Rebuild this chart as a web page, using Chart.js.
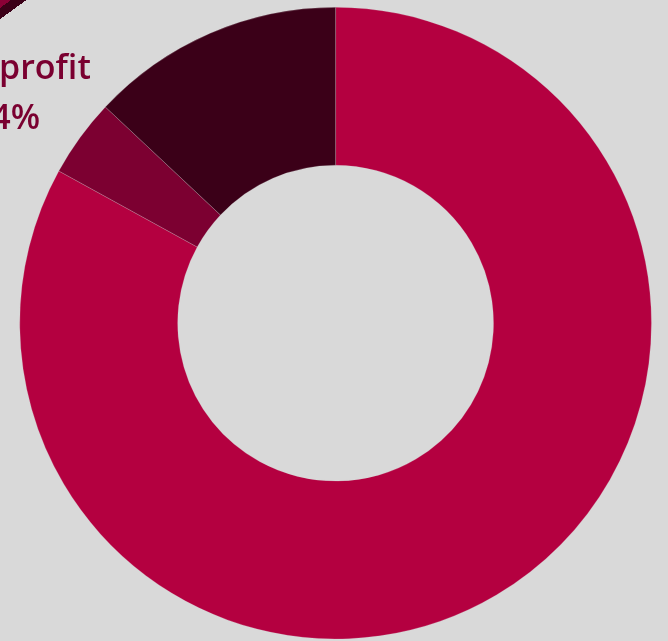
<!DOCTYPE html>
<html>
<head>
<meta charset="utf-8">
<script src="https://cdn.jsdelivr.net/npm/chart.js@4.4.1/dist/chart.umd.min.js"></script>
<style>
  html, body { margin: 0; padding: 0; background: #d9d9d9; overflow: hidden; }
  #wrap { position: relative; width: 668px; height: 641px; }
  #corner {
    position: absolute; left: 0; top: 0; width: 30px; height: 30px;
    background: linear-gradient(144deg, #8a0036 0 6.5px, #3b0018 6.5px 15.5px, transparent 15.5px);
  }
</style>
</head>
<body>
<div id="wrap">
  <canvas id="shareChart"></canvas>
  <div id="corner"></div>
</div>
<script>
const categories = ['Public', 'For profit', 'Nonprofit'];
const shares = [83, 4, 13];
const sliceColors = ['#b40040', '#7c0031', '#3b0018'];
const labelColor = '#7a0030';

// small slices get their name + share outside the ring, on the slice's middle angle
const outsideLabels = {
  id: 'outside-labels',
  afterDatasetsDraw(chart) {
    const { ctx: c } = chart;
    const meta = chart.getDatasetMeta(0);
    const total = shares.reduce((s, v) => s + v, 0);
    c.save();
    c.fillStyle = labelColor;
    c.font = '600 34px "Open Sans"';
    c.textAlign = 'center';
    c.textBaseline = 'alphabetic';
    meta.data.forEach((arc, i) => {
      const pct = Math.round(shares[i] / total * 100);
      if (pct > 25) return;
      const { x, y, startAngle, endAngle, outerRadius } = arc.getProps(['x', 'y', 'startAngle', 'endAngle', 'outerRadius'], true);
      const mid = (startAngle + endAngle) / 2;
      const r = outerRadius + 82;
      const lx = x + Math.cos(mid) * r, ly = y + Math.sin(mid) * r;
      c.fillText(categories[i], lx, ly - 10);
      c.fillText(pct + '%', lx + 2, ly + 40);
    });
    c.restore();
  }
};

new Chart(document.getElementById('shareChart'), {
  type: 'doughnut',
  data: {
    labels: categories,
    datasets: [{
      data: shares,
      backgroundColor: sliceColors,
      borderColor: 'rgba(217,217,217,0.35)',
      borderWidth: 0.6
    }]
  },
  options: {
    responsive: true,
    maintainAspectRatio: false,
    animation: false,
    cutout: '50%',
    layout: { padding: { left: 19.3, right: 16.1, top: 7, bottom: 1.7 } },
    plugins: { legend: { display: false }, tooltip: { enabled: false } }
  },
  plugins: [outsideLabels]
});
</script>
</body>
</html>
